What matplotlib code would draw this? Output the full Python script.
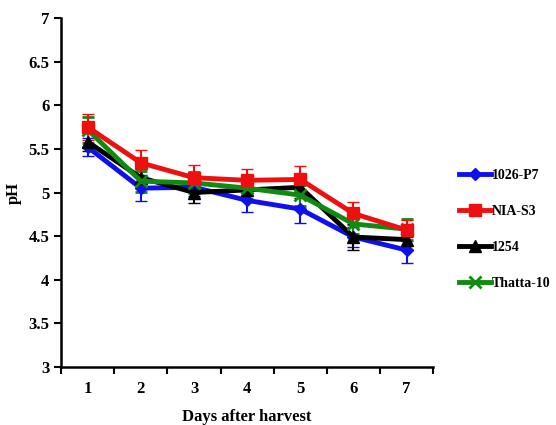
import matplotlib
matplotlib.use("Agg")
import matplotlib.pyplot as plt
from matplotlib.lines import Line2D
import numpy as np

plt.rcParams['font.family'] = ['Liberation Serif', 'DejaVu Serif']
plt.rcParams['font.weight'] = 'bold'

# data
days = [1, 2, 3, 4, 5, 6, 7]
p7 = [5.52, 5.05, 5.06, 4.91, 4.81, 4.49, 4.34]
p7_err = [0.10, 0.15, 0.10, 0.13, 0.16, 0.12, 0.15]
nia = [5.75, 5.34, 5.17, 5.14, 5.15, 4.76, 4.57]
nia_err = [0.15, 0.15, 0.14, 0.13, 0.15, 0.13, 0.12]
l1254 = [5.58, 5.17, 5.00, 5.03, 5.06, 4.49, 4.46]
l1254_err = [0.10, 0.12, 0.12, 0.12, 0.12, 0.15, 0.12]
thatta = [5.72, 5.13, 5.11, 5.05, 4.97, 4.64, 4.58]
thatta_err = [0.15, 0.12, 0.12, 0.12, 0.12, 0.12, 0.12]

fig = plt.figure(figsize=(5.56, 4.25), dpi=100)
ax = fig.add_axes([0.110, 0.1365, 0.669, 0.821])

series = [
    (p7, p7_err, '1026-P7', '#1010ee', 'D', 6),
    (l1254, l1254_err, '1254', 'black', '^', 8),
    (thatta, thatta_err, 'Thatta-10', '#108a10', 'x', 8),
    (nia, nia_err, 'NIA-S3', '#ee1010', 's', 8),
]
handles = {}
for vals, err, name, col, mk, ms in series:
    mew = 2 if mk == 'x' else 1
    ax.errorbar(days, vals, yerr=err, color=col, marker=mk, markersize=ms,
                linewidth=3.5, capsize=4, elinewidth=1.5, capthick=1.5,
                markeredgewidth=mew)
    handles[name] = Line2D([], [], color=col, marker=mk, linewidth=3.5,
                           markersize=ms, markeredgewidth=mew)

ax.set_xlim(0.5, 7.5)
ax.set_ylim(3, 7)
ax.set_yticks(np.arange(3, 7.01, 0.5))
ax.set_yticklabels(['3', '3.5', '4', '4.5', '5', '5.5', '6', '6.5', '7'])
ax.set_xticks(np.arange(0.5, 7.6, 1))
ax.set_xticklabels([])
ax.set_xticks(days, minor=True)
ax.set_xticklabels([str(d) for d in days], minor=True)
ax.tick_params(axis='x', which='minor', length=0, pad=10, labelsize=12)
ax.tick_params(axis='x', which='major', length=5, width=1.5)
ax.tick_params(axis='y', length=5, width=1.5, labelsize=12)
for s in ['top', 'right']:
    ax.spines[s].set_visible(False)
for s in ['left', 'bottom']:
    ax.spines[s].set_linewidth(1.8)

ax.set_xlabel('Days after harvest', fontsize=12, fontweight='bold', labelpad=9)
ax.set_ylabel('pH', fontsize=12, fontweight='bold')
ax.yaxis.set_label_coords(-0.105, 0.5)

order = ['1026-P7', 'NIA-S3', '1254', 'Thatta-10']
fig.legend([handles[n] for n in order], order, loc='center left',
           bbox_to_anchor=(0.826, 0.46), frameon=False, fontsize=10,
           handlelength=2.3, handletextpad=0.05, labelspacing=1.65,
           borderpad=0, borderaxespad=0)

fig.savefig('out.png', dpi=100)
